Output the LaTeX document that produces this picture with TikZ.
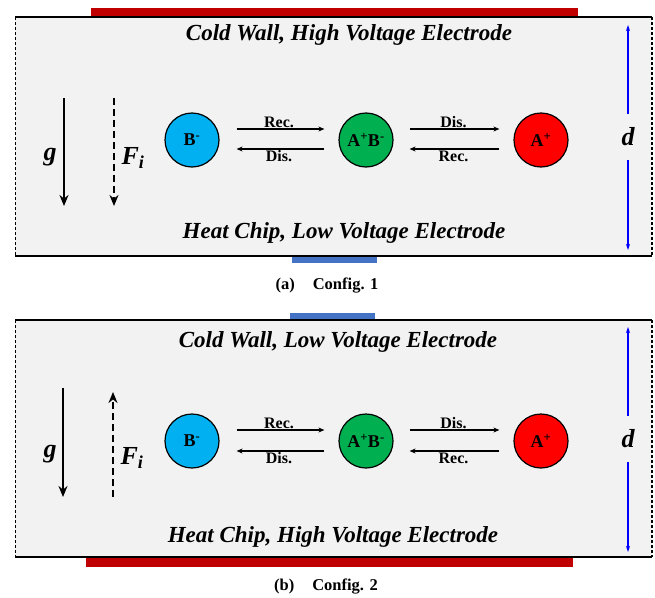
\documentclass[tikz,border=0pt]{standalone}
\usepackage{fontspec}
\setmainfont{Liberation Serif}
\usetikzlibrary{arrows.meta}
\definecolor{hv}{HTML}{C00000}
\definecolor{lv}{HTML}{4472C4}
\definecolor{panel}{HTML}{F2F2F2}
\definecolor{cb}{HTML}{00B0F0}
\definecolor{cab}{HTML}{00B050}
\definecolor{ca}{HTML}{FF0000}
\begin{document}
\begin{tikzpicture}[x=1pt,y=-1pt,
  particle/.style={circle, draw=black, line width=1.2pt, minimum size=54pt, inner sep=0pt, font=\fontsize{18}{18}\selectfont\bfseries},
  reac/.style={-{Stealth[length=6pt,width=5pt]}, line width=1.3pt},
  rlabel/.style={font=\fontsize{16}{16}\selectfont\bfseries, inner sep=1pt},
  wall/.style={font=\fontsize{23}{23}\selectfont\bfseries\itshape},
  force/.style={-{Stealth[length=11pt,width=9pt]}, line width=2.2pt},
  forced/.style={force, dash pattern=on 7pt off 4pt},
  glabel/.style={font=\fontsize{26}{26}\selectfont\bfseries\itshape},
  dlabel/.style={font=\fontsize{26}{26}\selectfont\bfseries\itshape, minimum height=46pt, inner sep=0pt},
  darrow/.style={-{Stealth[length=6pt,width=4pt]}, draw=blue, line width=1.3pt},
  topline/.style={line width=1.4pt},
  leftdash/.style={line width=1pt, dash pattern=on 3pt off 2pt},
  rightdash/.style={line width=2.2pt, dash pattern=on 3pt off 2pt},
  caption/.style={font=\fontsize{16.5}{16.5}\selectfont\bfseries}
]
\useasboundingbox (0,0) rectangle (655,597);

% ---------------- Panel (a) ----------------
\fill[panel] (15,17) rectangle (652,256);
\fill[hv] (91,8) rectangle (578,16);
\fill[lv] (292,257) rectangle (377,263);
\draw[topline] (15,17) -- (652,17);
\draw[topline] (15,256) -- (652,256);
\draw[leftdash] (15,17) -- (15,256);
\draw[rightdash] (652,17) -- (652,256);

\node[wall] (tw1) at (349,35) {Cold Wall, High Voltage Electrode};
\node[wall] (bw1) at (344,233) {Heat Chip, Low Voltage Electrode};

\coordinate (gt1) at (64,98);
\coordinate (gb1) at (64,206);
\draw[force] (gt1) -- (gb1);
\node[glabel] (g1) at (50,157) {g};
\coordinate (ft1) at (114,98);
\coordinate (fb1) at (114,206);
\draw[forced] (ft1) -- (fb1);
\node[glabel, anchor=west] (f1) at (118,158) {F\textsubscript{i}};

\node[particle, fill=cb] (B1) at (192,140) {B\textsuperscript{-}};
\node[particle, fill=cab] (AB1) at (366,140) {A\textsuperscript{+}B\textsuperscript{-}};
\node[particle, fill=ca] (A1) at (541,140) {A\textsuperscript{+}};

\draw[reac, shorten <=17pt, shorten >=14pt] ([yshift=11pt]B1.east) -- node[rlabel, above] {Rec.} ([yshift=11pt]AB1.west);
\draw[reac, shorten <=14pt, shorten >=17pt] ([yshift=-9pt]AB1.west) -- node[rlabel, below] {Dis.} ([yshift=-9pt]B1.east);
\draw[reac, shorten <=16pt, shorten >=14pt] ([yshift=11pt]AB1.east) -- node[rlabel, above] {Dis.} ([yshift=11pt]A1.west);
\draw[reac, shorten <=14pt, shorten >=16pt] ([yshift=-9pt]A1.west) -- node[rlabel, below] {Rec.} ([yshift=-9pt]AB1.east);

\node[dlabel] (d1) at (628,137) {d};
\coordinate (dt1) at (628,25);
\coordinate (db1) at (628,250);
\draw[darrow] (d1.north) -- (dt1);
\draw[darrow] (d1.south) -- (db1);

\node[caption] (cap1) at (327,286) {(a)\hspace{18pt}Config. 1};

% ---------------- Panel (b) ----------------
\fill[panel] (15,320) rectangle (652,557);
\fill[lv] (290,313) rectangle (375,319);
\fill[hv] (86,558) rectangle (573,567);
\draw[topline] (15,320) -- (652,320);
\draw[topline] (15,557) -- (652,557);
\draw[leftdash] (15,320) -- (15,557);
\draw[rightdash] (652,320) -- (652,557);

\node[wall] (tw2) at (338,342) {Cold Wall, Low Voltage Electrode};
\node[wall] (bw2) at (333,537) {Heat Chip, High Voltage Electrode};

\coordinate (gt2) at (63,388);
\coordinate (gb2) at (63,497);
\draw[force] (gt2) -- (gb2);
\node[glabel] (g2) at (50,454) {g};
\coordinate (ft2) at (113,497);
\coordinate (fb2) at (113,392);
\draw[forced] (ft2) -- (fb2);
\node[glabel, anchor=west] (f2) at (117,458) {F\textsubscript{i}};

\node[particle, fill=cb] (B2) at (192,441) {B\textsuperscript{-}};
\node[particle, fill=cab] (AB2) at (366,441) {A\textsuperscript{+}B\textsuperscript{-}};
\node[particle, fill=ca] (A2) at (541,441) {A\textsuperscript{+}};

\draw[reac, shorten <=17pt, shorten >=14pt] ([yshift=11pt]B2.east) -- node[rlabel, above] {Rec.} ([yshift=11pt]AB2.west);
\draw[reac, shorten <=14pt, shorten >=17pt] ([yshift=-10pt]AB2.west) -- node[rlabel, below] {Dis.} ([yshift=-10pt]B2.east);
\draw[reac, shorten <=16pt, shorten >=14pt] ([yshift=11pt]AB2.east) -- node[rlabel, above] {Dis.} ([yshift=11pt]A2.west);
\draw[reac, shorten <=14pt, shorten >=16pt] ([yshift=-10pt]A2.west) -- node[rlabel, below] {Rec.} ([yshift=-10pt]AB2.east);

\node[dlabel] (d2) at (628,439) {d};
\coordinate (dt2) at (628,327);
\coordinate (db2) at (628,552);
\draw[darrow] (d2.north) -- (dt2);
\draw[darrow] (d2.south) -- (db2);

\node[caption] (cap2) at (326,587) {(b)\hspace{18pt}Config. 2};
\end{tikzpicture}
\end{document}
